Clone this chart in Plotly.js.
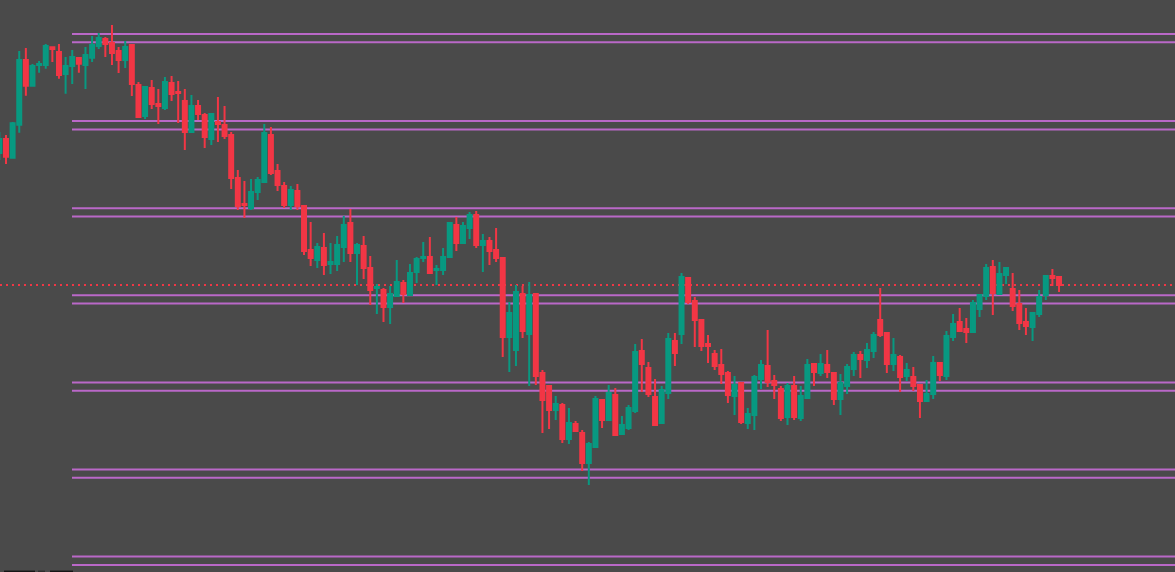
<!DOCTYPE html>
<html>
<head>
<meta charset="utf-8">
<script src="https://cdn.plot.ly/plotly-3.0.1.min.js"></script>
<style>
html,body{margin:0;padding:0;background:#4a4a4a;overflow:hidden;}
#chart{width:1175px;height:572px;}
</style>
</head>
<body>
<div id="chart"></div>
<script>
// OHLC values
const open = [84.7,86.1,84.23,87.53,94.0,91.43,93.5,93.5,95.27,94.8,
  92.6,93.4,94.2,93.5,94.23,95.4,96.1,95.7,94.9,94.0,
  95.5,91.5,88.4,91.2,89.6,89.2,91.7,90.8,89.9,86.8,
  89.4,88.5,86.1,87.8,87.5,86.5,82.2,79.6,79.2,80.8,
  81.8,86.5,82.9,81.4,79.5,80.9,79.4,75.0,74.0,75.2,
  73.6,73.6,75.3,77.7,74.7,75.4,73.2,71.2,71.0,69.3,
  70.4,71.7,70.5,72.8,74.2,74.3,73.0,73.0,74.3,77.5,
  75.7,77.2,78.5,75.5,75.9,75.0,74.2,66.3,65.0,70.6,
  66.6,70.6,62.7,61.4,59.0,59.5,56.1,57.6,56.7,53.7,
  55.3,60.0,58.0,60.5,56.6,57.2,58.9,64.9,63.2,60.3,
  57.7,60.7,65.9,66.6,72.2,69.9,68.0,65.6,64.6,63.5,
  62.7,60.4,61.7,57.7,58.5,62.1,63.4,61.9,61.1,58.3,
  61.4,58.2,60.2,63.6,62.7,63.5,62.7,60.1,61.4,63.1,
  64.5,64.0,64.9,68.0,66.7,63.6,64.3,62.4,62.3,61.5,
  59.9,60.6,63.7,62.4,66.3,67.8,67.1,66.8,69.1,70.4,
  73.3,70.6,72.5,71.1,69.6,67.8,67.3,68.6,70.5,72.4,
  72.3];
const high = [86.8,86.5,87.8,94.9,95.2,93.6,93.9,95.6,95.27,95.6,
  94.3,95.0,94.3,95.3,96.4,96.7,96.3,97.5,95.3,95.9,
  95.6,91.8,91.4,92.0,91.1,92.3,92.4,91.9,91.1,90.5,
  90.0,88.7,88.7,90.3,89.4,86.8,83.0,81.9,82.1,82.3,
  87.6,87.3,83.6,81.8,81.4,81.6,79.5,77.8,75.7,76.7,
  75.7,76.4,78.4,79.1,75.7,76.4,74.4,71.6,71.2,71.4,
  74.0,72.0,73.6,74.3,75.8,76.3,73.5,75.2,77.8,78.3,
  77.8,78.8,78.9,76.6,76.3,77.2,74.2,69.8,71.5,71.4,
  71.8,70.6,63.0,61.5,60.4,59.7,59.2,57.9,57.0,55.8,
  60.4,60.0,61.5,61.2,58.4,59.5,65.6,66.1,63.8,62.1,
  61.4,66.7,66.7,72.7,72.2,70.3,68.1,66.5,65.0,65.1,
  62.9,62.4,61.7,59.2,62.5,64.0,67.0,62.5,61.4,61.7,
  62.4,61.4,64.1,63.7,64.6,65.0,62.8,62.6,63.6,64.8,
  64.9,65.7,66.8,71.2,66.7,66.2,64.5,63.7,63.3,61.6,
  62.0,64.4,63.8,66.9,68.6,69.2,68.2,70.0,70.6,73.6,
  74.0,73.8,73.3,72.7,71.0,69.2,68.8,71.0,72.5,73.1,
  72.4];
const low = [84.0,83.6,84.13,86.73,90.43,91.33,92.73,93.13,93.8,92.13,
  90.63,91.6,92.73,91.1,93.8,95.1,94.3,93.5,92.7,93.2,
  90.4,88.2,88.1,89.1,87.6,89.0,89.9,87.7,85.0,86.75,
  88.0,85.2,85.5,85.8,86.1,81.1,79.0,78.2,79.0,80.0,
  81.8,82.5,80.9,79.2,79.0,79.0,74.5,73.4,73.2,72.5,
  72.6,72.9,73.8,73.8,71.5,72.1,69.5,68.6,67.8,67.6,
  70.3,69.7,70.5,71.7,73.8,72.6,71.5,72.5,74.3,74.9,
  75.6,76.1,75.2,72.8,73.5,73.8,64.3,62.8,63.4,66.2,
  61.4,61.5,56.7,57.1,58.0,55.7,55.6,56.8,52.9,51.5,
  55.3,57.2,58.0,56.5,56.5,57.0,58.7,60.8,60.3,57.4,
  57.6,60.1,63.4,65.6,69.6,65.3,64.9,63.7,63.0,61.6,
  59.7,58.5,57.6,57.1,57.0,61.1,61.3,60.1,57.9,57.5,
  58.0,57.9,60.1,61.4,62.4,62.2,59.5,58.5,60.6,62.4,
  62.2,63.2,64.2,66.3,62.7,62.9,60.8,61.9,60.9,58.2,
  59.8,60.1,61.9,62.0,65.9,66.9,65.7,66.7,68.3,70.0,
  68.5,70.5,71.6,68.9,67.0,66.5,65.9,68.3,70.0,71.4,
  70.8];
const close = [86.1,84.33,87.67,94.0,91.43,93.4,93.6,95.4,95.1,92.5,
  93.4,94.3,93.63,94.5,95.5,96.2,95.6,94.7,94.0,95.3,
  91.6,88.3,91.3,89.6,89.4,91.8,90.6,90.7,86.8,89.4,
  88.6,86.3,88.6,87.6,86.4,82.2,79.4,79.5,80.8,82.0,
  86.7,82.7,81.5,79.5,81.0,79.4,74.9,74.2,75.3,73.5,
  73.8,75.5,77.5,74.7,75.5,73.2,71.0,71.3,69.3,70.6,
  71.8,70.6,72.7,74.1,74.3,72.7,73.1,74.3,77.7,75.7,
  77.4,78.5,75.5,75.9,74.9,74.2,66.3,68.7,70.8,66.9,
  70.5,62.4,60.0,59.0,59.6,56.1,57.7,56.9,53.7,55.6,
  60.1,58.0,60.7,56.5,57.5,59.2,64.8,63.6,60.6,57.5,
  61.0,66.1,64.7,72.3,69.8,68.0,65.4,65.4,63.4,62.6,
  60.5,61.5,57.8,58.6,62.3,63.5,61.8,61.5,58.2,61.4,
  58.3,60.4,63.5,62.8,63.6,62.8,60.1,61.7,63.3,64.5,
  64.1,65.0,66.5,66.5,63.6,64.5,62.3,63.0,61.4,59.9,
  60.6,63.7,62.5,66.4,67.6,66.9,66.8,69.7,70.5,73.2,
  70.7,72.6,73.2,69.4,67.7,67.4,68.7,70.3,72.4,72.2,
  71.5];
// Horizontal level pairs (upper / lower line of each pair)
const levelUpper = [96.6, 87.89, 79.18, 70.47, 61.76, 53.05, 44.34];
const levelLower = [95.77, 87.06, 78.35, 69.64, 60.93, 52.22, 43.51];
const bidLevel = close[close.length - 1];

const GREEN = '#089981', RED = '#f23645', PURPLE = '#ba68c8', BG = '#4a4a4a';
const xs = open.map((_, i) => i);

const trace = {
  type: 'candlestick',
  x: xs, open: open, high: high, low: low, close: close,
  increasing: {line: {color: GREEN, width: 2}, fillcolor: GREEN},
  decreasing: {line: {color: RED, width: 2}, fillcolor: RED},
  whiskerwidth: 0,
  hoverinfo: 'skip',
  showlegend: false
};

const shapes = [];
levelUpper.concat(levelLower).forEach(v => {
  shapes.push({type: 'line', xref: 'paper', yref: 'y', x0: 72/1175, x1: 1, y0: v, y1: v,
    line: {color: PURPLE, width: 2}, layer: 'below'});
});
shapes.push({type: 'line', xref: 'paper', yref: 'y', x0: 0, x1: 1, y0: bidLevel, y1: bidLevel,
  line: {color: RED, width: 2, dash: '2px,4px'}, layer: 'below'});
// small dark UI fragments at the very bottom-left edge
[[4, 35, '#161616'], [38, 45, '#2e2e2e'], [50, 73, '#161616']].forEach(r => {
  shapes.push({type: 'rect', xref: 'paper', yref: 'paper', x0: r[0]/1175, x1: r[1]/1175,
    y0: 0, y1: 1.4/572, fillcolor: r[2], line: {width: 0}, layer: 'above'});
});

const layout = {
  width: 1175, height: 572,
  margin: {l: 0, r: 0, t: 0, b: 0, pad: 0},
  paper_bgcolor: BG, plot_bgcolor: BG,
  showlegend: false,
  boxgap: 0.4, boxgroupgap: 0,
  xaxis: {range: [0.094, 177.51], visible: false, showgrid: false, zeroline: false,
    rangeslider: {visible: false}, fixedrange: true},
  yaxis: {range: [42.8, 100], visible: false, showgrid: false, zeroline: false, fixedrange: true},
  shapes: shapes
};

Plotly.newPlot('chart', [trace], layout, {displayModeBar: false, staticPlot: true});
</script>
</body>
</html>
